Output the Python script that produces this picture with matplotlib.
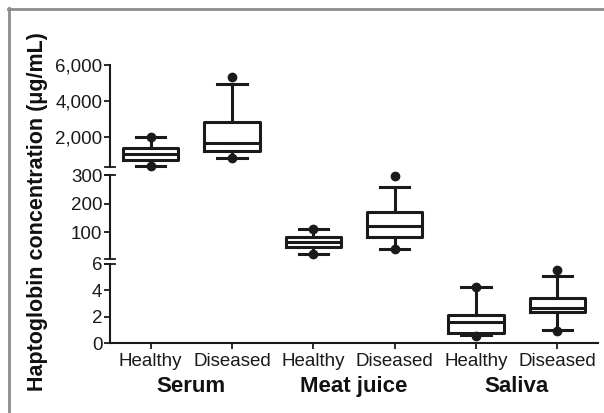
import matplotlib
matplotlib.use('Agg')
import matplotlib.pyplot as plt
from matplotlib.lines import Line2D

plt.rcParams['font.family'] = ['Liberation Sans', 'DejaVu Sans']

groups = ['Serum', 'Meat juice', 'Saliva']
conditions = ['Healthy', 'Diseased']

# box summaries (ug/mL): whislo, q1, median, q3, whishi
serum_healthy = [363, 700, 1035, 1370, 1950]
serum_diseased = [793, 1218, 1631, 2838, 4927]
meat_healthy = [24, 48, 65, 85, 110]
meat_diseased = [42, 85, 122, 170, 259]
saliva_healthy = [0.63, 0.76, 1.64, 2.14, 4.29]
saliva_diseased = [1.0, 2.39, 2.65, 3.41, 5.12]

# the dots at the extremes
serum_healthy_dots = [363, 1960]
serum_diseased_dots = [780, 5350]
meat_healthy_dots = [24, 110]
meat_diseased_dots = [42, 297]
saliva_healthy_dots = [0.55, 4.29]
saliva_diseased_dots = [0.9, 5.55]

# y axis segments (bottom, top) and their ticks
top_range = (300, 6000)
top_ticks = [2000, 4000, 6000]
mid_range = (6, 300)
mid_ticks = [100, 200, 300]
low_range = (0, 6)
low_ticks = [0, 2, 4, 6]

W, H = 604, 413
fig = plt.figure(figsize=(W / 100, H / 100), dpi=100)

def frac_rect(x0, x1, ytop, ybot):
    return [x0 / W, 1 - ybot / H, (x1 - x0) / W, (ybot - ytop) / H]

ax_top = fig.add_axes(frac_rect(110, 598, 65, 167))
ax_mid = fig.add_axes(frac_rect(110, 598, 175, 259.2))
ax_low = fig.add_axes(frac_rect(110, 598, 264, 343.3))

def stats(vals, dots):
    lo, q1, med, q3, hi = vals
    return dict(whislo=lo, q1=q1, med=med, q3=q3, whishi=hi, fliers=dots)

lw = 2.2
ink = '#1a1a1a'
box_kw = dict(
    widths=0.68,
    showfliers=True,
    boxprops=dict(color=ink, linewidth=lw),
    medianprops=dict(color=ink, linewidth=lw),
    whiskerprops=dict(color=ink, linewidth=lw),
    capprops=dict(color=ink, linewidth=lw),
    flierprops=dict(marker='o', markersize=6, markerfacecolor=ink,
                    markeredgecolor=ink),
    capwidths=0.36,
)

panels = [
    (ax_top, top_range, top_ticks, [1, 2],
     [stats(serum_healthy, serum_healthy_dots), stats(serum_diseased, serum_diseased_dots)]),
    (ax_mid, mid_range, mid_ticks, [3, 4],
     [stats(meat_healthy, meat_healthy_dots), stats(meat_diseased, meat_diseased_dots)]),
    (ax_low, low_range, low_ticks, [5, 6],
     [stats(saliva_healthy, saliva_healthy_dots), stats(saliva_diseased, saliva_diseased_dots)]),
]

for ax, yr, ticks, pos, st in panels:
    arts = ax.bxp(st, positions=pos, **box_kw)
    for group in arts.values():
        for a in group:
            a.set_clip_on(False)
    ax.set_xlim(0.5, 6.5)
    ax.set_ylim(*yr)
    ax.set_facecolor('none')
    for s in ['top', 'right', 'bottom']:
        ax.spines[s].set_visible(False)
    ax.spines['left'].set_linewidth(1.5)
    ax.spines['left'].set_color(ink)
    ax.set_yticks(ticks)
    ax.set_yticklabels([f'{t:,}' for t in ticks])
    ax.tick_params(axis='y', length=4, width=1.3, pad=1.5, labelsize=13.5,
                   colors=ink)
    ax.tick_params(axis='x', bottom=False, labelbottom=False)

# bottom axis carries the x axis
ax_low.spines['bottom'].set_visible(True)
ax_low.spines['bottom'].set_linewidth(1.5)
ax_low.spines['bottom'].set_color(ink)
ax_low.tick_params(axis='x', bottom=True, labelbottom=True, length=4, width=1.3,
                   labelsize=13.5, colors=ink, pad=3)
ax_low.set_xticks(range(1, 7))
ax_low.set_xticklabels(conditions * 3)

# group names under the ticks
for i, g in enumerate(groups):
    ax_low.text(1.5 + 2 * i, -0.55, g, transform=ax_low.get_xaxis_transform(),
                ha='center', va='center', fontsize=16, fontweight='bold',
                color='#111111')

# break marks on the y axis
d = 0.011
for ax, ys in [(ax_top, [0]), (ax_mid, [0, 1]), (ax_low, [1])]:
    for y in ys:
        ax.plot([-d, d], [y, y], transform=ax.transAxes, color=ink,
                lw=1.3, clip_on=False)

fig.text(38 / W, 1 - 212 / H, 'Haptoglobin concentration (\u03bcg/mL)',
         rotation=90, ha='center', va='center', fontsize=15.5, fontweight='bold',
         color='#111111')

# grey frame along top and left edges
fig.add_artist(Line2D([8 / W, 1], [1 - 8.5 / H, 1 - 8.5 / H], color='#8c8c8c', lw=2))
fig.add_artist(Line2D([8.5 / W, 8.5 / W], [0, 1 - 8 / H], color='#8c8c8c', lw=2))

fig.savefig('out.png', dpi=100)
